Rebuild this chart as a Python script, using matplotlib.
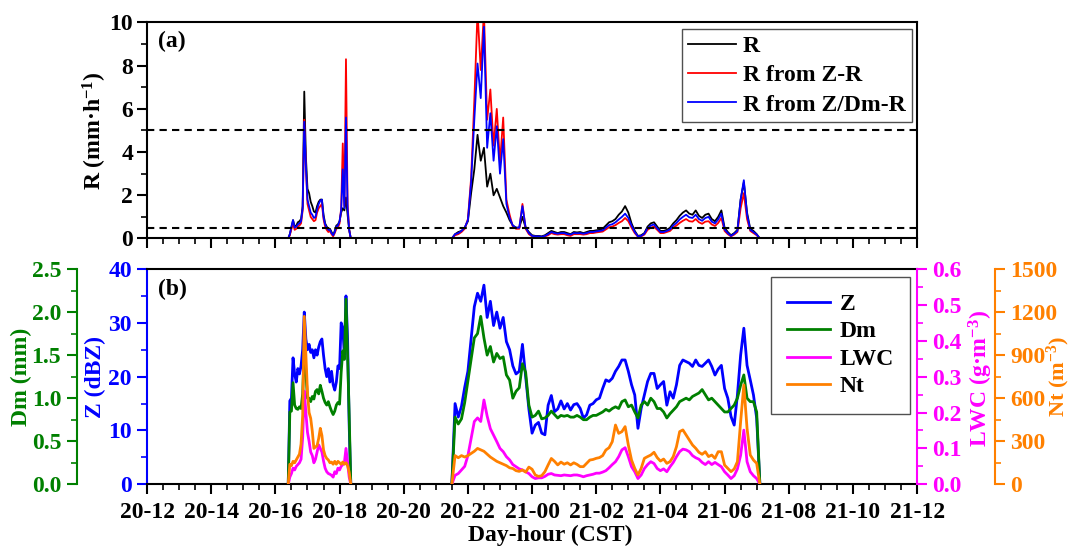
import matplotlib
matplotlib.use('Agg')
import matplotlib.pyplot as plt
import numpy as np
from matplotlib.ticker import MultipleLocator, FuncFormatter, FormatStrFormatter

# ........................................................ fonts
plt.rcParams['font.family'] = ['Liberation Serif', 'DejaVu Serif']
plt.rcParams['font.weight'] = 'bold'
plt.rcParams['font.size'] = 17
plt.rcParams['axes.labelweight'] = 'bold'
plt.rcParams['mathtext.fontset'] = 'custom'
plt.rcParams['mathtext.rm'] = 'Liberation Serif:bold'
plt.rcParams['mathtext.it'] = 'Liberation Serif:bold'
plt.rcParams['mathtext.bf'] = 'Liberation Serif:bold'

# ........................................................ data
# time in hours after 20-12 (CST); event 1 sampled every 3 min, event 2 every 6 min
ev1_start, ev1_step = 4.40, 0.05
ev2_start, ev2_step = 9.50, 0.10

r_ev1 = [0, 0.2, 0.5, 0.85, 0.55, 0.6, 0.75, 0.8, 0.9, 1.5,
         6.8, 3.8, 2.3, 2.1, 1.7, 1.5, 1.25, 1.2, 1.5, 1.7,
         1.8, 1.8, 1.1, 0.7, 0.55, 0.4, 0.45, 0.3, 0.15, 0.35,
         0.6, 0.65, 0.8, 1.2, 1.4, 1.3, 1.9, 1.1, 0.4, 0]
rzr_ev1 = [0, 0.15, 0.45, 0.7, 0.4, 0.45, 0.55, 0.6, 0.7, 1.3,
           5.5, 3.3, 1.6, 1.3, 1.0, 0.9, 0.8, 0.85, 1.2, 1.4,
           1.5, 1.6, 0.9, 0.55, 0.4, 0.3, 0.35, 0.2, 0.1, 0.25,
           0.45, 0.5, 0.7, 1.4, 4.4, 1.5, 8.3, 1.6, 0.4, 0]
rzd_ev1 = [0, 0.2, 0.55, 0.85, 0.5, 0.55, 0.65, 0.7, 0.8, 1.4,
           5.4, 3.4, 1.8, 1.5, 1.2, 1.1, 0.95, 1.0, 1.35, 1.6,
           1.75, 1.8, 1.0, 0.65, 0.5, 0.4, 0.4, 0.25, 0.15, 0.3,
           0.55, 0.6, 0.8, 1.3, 3.2, 1.4, 5.6, 1.4, 0.4, 0]
z_ev1 = [0, 15.5, 16, 23.5, 20.5, 19, 21.5, 20.5, 22, 25,
         32, 27, 25, 26, 24.5, 25, 23.5, 25, 24, 25.5,
         26.5, 27, 24, 21.5, 20, 21.5, 19, 21, 18.5, 17.5,
         19, 22, 21.5, 30, 29, 24, 35, 27, 11, 0]
dm_ev1 = [0, 0.84, 0.85, 1.18, 0.92, 0.88, 0.87, 0.9, 0.88, 1.05,
          1.6, 1.3, 1.0, 1.0, 0.96, 1.02, 0.99, 1.08, 1.1, 1.05,
          1.15, 1.08, 1.0, 0.95, 0.92, 0.96, 0.9, 0.85, 0.81, 0.85,
          0.92, 0.95, 0.93, 1.3, 1.55, 1.45, 2.15, 1.5, 0.8, 0]
lwc_ev1 = [0, 0.02, 0.03, 0.045, 0.04, 0.05, 0.055, 0.06, 0.07, 0.13,
           0.26, 0.2, 0.145, 0.12, 0.09, 0.08, 0.06, 0.07, 0.09, 0.11,
           0.1, 0.09, 0.065, 0.045, 0.035, 0.03, 0.028, 0.025, 0.02, 0.035,
           0.03, 0.045, 0.04, 0.05, 0.055, 0.06, 0.1, 0.06, 0.02, 0]
nt_ev1 = [0, 140, 130, 160, 150, 170, 190, 210, 280, 480,
          1170, 900, 640, 500, 460, 370, 250, 260, 270, 320,
          390, 340, 240, 200, 180, 170, 150, 155, 140, 160,
          140, 160, 150, 140, 155, 140, 150, 130, 85, 0]

r_ev2 = [0, 0.2, 0.3, 0.35, 0.5, 0.8, 2.1, 3.2, 4.8, 3.6,
         4.2, 2.4, 3.0, 2.0, 2.3, 1.9, 1.5, 1.2, 0.85, 0.6,
         0.5, 0.5, 1.0, 0.5, 0.3, 0.15, 0.12, 0.12, 0.1, 0.15,
         0.25, 0.35, 0.3, 0.25, 0.3, 0.3, 0.25, 0.2, 0.3, 0.28,
         0.3, 0.25, 0.3, 0.35, 0.35, 0.38, 0.4, 0.45, 0.6, 0.75,
         0.8, 0.9, 1.1, 1.25, 1.5, 1.2, 0.7, 0.35, 0.12, 0.15,
         0.25, 0.55, 0.7, 0.75, 0.55, 0.35, 0.35, 0.4, 0.5, 0.7,
         0.85, 1.05, 1.2, 1.3, 1.15, 1.1, 1.3, 1.05, 0.95, 1.1,
         1.15, 0.9, 0.8, 1.0, 1.3, 0.5, 0.3, 0.15, 0.25, 0.4,
         1.8, 2.6, 1.2, 0.45, 0.35, 0.2, 0]
rzr_ev2 = [0, 0.15, 0.2, 0.3, 0.45, 0.9, 2.8, 6.4, 10.5, 7.8,
           10.5, 5.5, 6.9, 4.3, 6.0, 3.5, 5.6, 1.8, 1.1, 0.55,
           0.45, 0.45, 1.6, 0.45, 0.2, 0.1, 0.08, 0.08, 0.06, 0.1,
           0.15, 0.25, 0.2, 0.18, 0.2, 0.2, 0.15, 0.12, 0.2, 0.2,
           0.2, 0.18, 0.2, 0.25, 0.25, 0.28, 0.3, 0.32, 0.42, 0.52,
           0.55, 0.62, 0.72, 0.8, 0.95, 0.8, 0.5, 0.25, 0.08, 0.1,
           0.18, 0.4, 0.5, 0.55, 0.4, 0.25, 0.25, 0.3, 0.35, 0.5,
           0.6, 0.72, 0.82, 0.9, 0.8, 0.78, 0.9, 0.75, 0.68, 0.78,
           0.8, 0.65, 0.58, 0.72, 0.95, 0.35, 0.2, 0.1, 0.18, 0.3,
           1.4, 2.1, 0.9, 0.35, 0.25, 0.15, 0]
rzd_ev2 = [0, 0.2, 0.25, 0.35, 0.5, 0.85, 2.6, 5.5, 8.1, 6.5,
           9.8, 4.2, 5.8, 3.6, 5.2, 3.0, 4.6, 1.6, 0.95, 0.6,
           0.5, 0.5, 1.5, 0.5, 0.25, 0.12, 0.1, 0.1, 0.08, 0.12,
           0.2, 0.3, 0.25, 0.22, 0.25, 0.25, 0.2, 0.18, 0.25, 0.24,
           0.25, 0.22, 0.25, 0.3, 0.3, 0.33, 0.35, 0.38, 0.5, 0.62,
           0.66, 0.75, 0.88, 1.0, 1.15, 0.95, 0.6, 0.3, 0.1, 0.12,
           0.22, 0.48, 0.6, 0.65, 0.47, 0.3, 0.3, 0.35, 0.42, 0.6,
           0.72, 0.88, 1.0, 1.1, 0.98, 0.95, 1.1, 0.9, 0.82, 0.95,
           1.0, 0.78, 0.7, 0.88, 1.15, 0.42, 0.25, 0.12, 0.22, 0.35,
           1.8, 2.7, 1.1, 0.4, 0.3, 0.18, 0]
z_ev2 = [0, 15, 12.5, 14.5, 18, 21, 27, 33, 35.5, 34,
         37, 31, 34, 29.5, 32, 29, 31, 26.5, 25, 22,
         20.5, 21, 26, 20, 14, 9.5, 11, 11.5, 9.5, 9.2,
         14.7, 16.5, 13.5, 14, 15.5, 14, 15, 13.8, 14.8, 15,
         14.1, 12.3, 12.9, 14.7, 15, 15.7, 16, 17.8, 19.4, 19.1,
         19.7, 21, 21.9, 23.1, 23.1, 21, 18.5, 16.6, 10.4, 14.1,
         16.6, 19.1, 20.6, 20.6, 17.8, 18.5, 19.1, 14.7, 17.2, 16,
         18.5, 22.1, 23.1, 22.8, 22.5, 21.9, 23.1, 22.1, 21.9, 22.5,
         23.1, 21.9, 20.3, 21.4, 22.1, 17.8, 16, 12.6, 11, 16.6,
         24, 29, 22.1, 19.4, 16.6, 12.3, 0]
dm_ev2 = [0, 0.78, 0.7, 0.76, 0.95, 1.2, 1.45, 1.7, 1.75, 1.95,
          1.7, 1.5, 1.6, 1.42, 1.52, 1.46, 1.48, 1.27, 1.21, 1.0,
          1.08, 1.12, 1.4, 1.3, 0.92, 0.78, 0.8, 0.85, 0.76, 0.77,
          0.8, 0.85, 0.81, 0.77, 0.8, 0.79, 0.8, 0.78, 0.78, 0.8,
          0.78, 0.75, 0.75, 0.78, 0.8, 0.8, 0.82, 0.84, 0.87, 0.85,
          0.88, 0.9, 0.88, 0.96, 0.98, 0.9, 0.92, 0.84, 0.77, 0.92,
          0.96, 0.92, 1.0, 0.96, 0.88, 0.88, 0.84, 0.77, 0.82, 0.86,
          0.9, 0.96, 0.98, 1.0, 0.98, 1.02, 1.04, 1.06, 1.1, 1.04,
          0.98, 1.0, 0.96, 0.92, 0.88, 0.84, 0.84, 0.88, 0.92, 1.0,
          1.15, 1.27, 1.0, 0.96, 0.96, 0.84, 0]
lwc_ev2 = [0, 0.025, 0.03, 0.04, 0.05, 0.08, 0.128, 0.175, 0.185, 0.175,
           0.235, 0.19, 0.155, 0.137, 0.119, 0.1, 0.091, 0.077, 0.068, 0.055,
           0.049, 0.043, 0.04, 0.035, 0.03, 0.021, 0.016, 0.018, 0.018, 0.022,
           0.028, 0.03, 0.026, 0.025, 0.024, 0.026, 0.025, 0.024, 0.026, 0.026,
           0.024, 0.021, 0.024, 0.026, 0.028, 0.031, 0.031, 0.034, 0.038, 0.046,
           0.055, 0.063, 0.077, 0.096, 0.102, 0.077, 0.049, 0.035, 0.016, 0.026,
           0.044, 0.055, 0.063, 0.058, 0.044, 0.038, 0.043, 0.035, 0.049, 0.061,
           0.077, 0.091, 0.098, 0.096, 0.091, 0.08, 0.074, 0.07, 0.061, 0.055,
           0.063, 0.055, 0.061, 0.055, 0.049, 0.035, 0.026, 0.016, 0.024, 0.043,
           0.081, 0.151, 0.063, 0.035, 0.024, 0.016, 0]
nt_ev2 = [0, 200, 185, 200, 190, 200, 215, 230, 250, 240,
          230, 210, 190, 175, 160, 150, 140, 130, 115, 110,
          95, 90, 100, 85, 120, 105, 65, 55, 60, 88,
          135, 180, 160, 135, 155, 140, 150, 135, 150, 139,
          123, 123, 146, 169, 173, 181, 186, 200, 239, 255,
          297, 413, 355, 367, 402, 274, 169, 111, 65, 111,
          181, 193, 204, 223, 186, 162, 176, 146, 158, 193,
          262, 367, 379, 344, 309, 274, 251, 223, 209, 227,
          193, 204, 181, 227, 227, 134, 111, 88, 107, 158,
          436, 692, 390, 204, 169, 146, 0]

t_ev1 = ev1_start + ev1_step * np.arange(len(r_ev1))
t_ev2 = ev2_start + ev2_step * np.arange(len(r_ev2))
t_all = np.concatenate([t_ev1, [np.nan], t_ev2])


def join(a, b):
    return np.concatenate([a, [np.nan], b])


def day_hour(v, pos):
    h = int(round(v)) + 12
    return f"{20 + h // 24}-{h % 24:02d}"


C_Z, C_DM, C_LWC, C_NT = '#0000FF', '#008000', '#FF00FF', '#FF8000'
LW_SP = 1.5

fig = plt.figure(figsize=(10.71, 5.46), dpi=100)
ax_a = fig.add_axes([0.1373, 0.5632, 0.719, 0.3956])
ax_b = fig.add_axes([0.1373, 0.1130, 0.719, 0.3943])

# ........................................................ panel (a)
ax_a.plot(t_all, join(r_ev1, r_ev2), color='k', lw=1.3, label='R')
ax_a.plot(t_all, join(rzr_ev1, rzr_ev2), color='#FF0000', lw=1.3, label='R from Z-R')
ax_a.plot(t_all, join(rzd_ev1, rzd_ev2), color='#0000FF', lw=1.3, label='R from Z/Dm-R')
for lev in (5, 0.5):
    ax_a.axhline(lev, color='k', lw=1.5, ls=(0, (3.5, 2.5)))
ax_a.set_xlim(0, 24)
ax_a.set_ylim(0, 10)
ax_a.xaxis.set_major_locator(MultipleLocator(2))
ax_a.xaxis.set_minor_locator(MultipleLocator(0.5))
ax_a.yaxis.set_major_locator(MultipleLocator(2))
ax_a.yaxis.set_minor_locator(MultipleLocator(1))
ax_a.tick_params(axis='x', labelbottom=False)
ax_a.tick_params(which='major', direction='out', length=7, width=1.5, pad=3)
ax_a.tick_params(which='minor', direction='out', length=4, width=1.2)
for s in ax_a.spines.values():
    s.set_linewidth(LW_SP)
ax_a.set_ylabel('R (mm·h$^{-1}$)')
ax_a.yaxis.set_label_coords(-0.050, 0.5)
ax_a.text(0.014, 0.91, '(a)', transform=ax_a.transAxes, va='center', ha='left')
leg = ax_a.legend(loc='upper right', bbox_to_anchor=(0.9935, 0.970), borderaxespad=0,
                  handlelength=2.0, handletextpad=0.3, labelspacing=0.33, borderpad=0.28,
                  fancybox=False, framealpha=1, edgecolor='#505050')
leg.get_frame().set_linewidth(1.0)

# ........................................................ panel (b)
ax_dm = ax_b.twinx()
ax_lwc = ax_b.twinx()
ax_nt = ax_b.twinx()

lz, = ax_b.plot(t_all, join(z_ev1, z_ev2), color=C_Z, lw=2.0, label='Z')
ldm, = ax_dm.plot(t_all, join(dm_ev1, dm_ev2), color=C_DM, lw=2.0, label='Dm')
llwc, = ax_lwc.plot(t_all, join(lwc_ev1, lwc_ev2), color=C_LWC, lw=2.0, label='LWC')
lnt, = ax_nt.plot(t_all, join(nt_ev1, nt_ev2), color=C_NT, lw=2.0, label='Nt')

ax_b.set_xlim(0, 24)
ax_b.set_ylim(0, 40)
ax_dm.set_ylim(0, 2.5)
ax_lwc.set_ylim(0, 0.6)
ax_nt.set_ylim(0, 1500)

ax_b.xaxis.set_major_locator(MultipleLocator(2))
ax_b.xaxis.set_minor_locator(MultipleLocator(0.5))
ax_b.xaxis.set_major_formatter(FuncFormatter(day_hour))
ax_b.yaxis.set_major_locator(MultipleLocator(10))
ax_b.yaxis.set_minor_locator(MultipleLocator(5))
ax_dm.yaxis.set_major_locator(MultipleLocator(0.5))
ax_dm.yaxis.set_minor_locator(MultipleLocator(0.25))
ax_dm.yaxis.set_major_formatter(FormatStrFormatter('%.1f'))
ax_lwc.yaxis.set_major_locator(MultipleLocator(0.1))
ax_lwc.yaxis.set_minor_locator(MultipleLocator(0.05))
ax_lwc.yaxis.set_major_formatter(FormatStrFormatter('%.1f'))
ax_nt.yaxis.set_major_locator(MultipleLocator(300))
ax_nt.yaxis.set_minor_locator(MultipleLocator(150))

# spines: keep one per twin axis
ax_b.spines['right'].set_visible(False)
for s in ('top', 'bottom', 'left'):
    ax_b.spines[s].set_linewidth(LW_SP)
for ax in (ax_dm, ax_lwc, ax_nt):
    for s in ax.spines.values():
        s.set_visible(False)
ax_dm.spines['left'].set_visible(True)
ax_dm.spines['left'].set_position(('axes', -0.0916))
ax_dm.yaxis.set_ticks_position('left')
ax_dm.yaxis.set_label_position('left')
ax_lwc.spines['right'].set_visible(True)
ax_nt.spines['right'].set_visible(True)
ax_nt.spines['right'].set_position(('axes', 1.101))

for ax, side, col in ((ax_b, 'left', C_Z), (ax_dm, 'left', C_DM),
                      (ax_lwc, 'right', C_LWC), (ax_nt, 'right', C_NT)):
    ax.spines[side].set_color(col)
    ax.spines[side].set_linewidth(LW_SP)
    ax.tick_params(axis='y', which='major', direction='out', length=7, width=1.5,
                   colors=col, pad=4)
    ax.tick_params(axis='y', which='minor', direction='out', length=4, width=1.2,
                   colors=col)
ax_b.tick_params(axis='x', which='major', direction='out', length=7, width=1.5, pad=6)
ax_b.tick_params(axis='x', which='minor', direction='out', length=4, width=1.2)

ax_b.set_ylabel('Z (dBZ)', color=C_Z)
ax_b.yaxis.set_label_coords(-0.053, 0.5)
ax_dm.set_ylabel('Dm (mm)', color=C_DM)
ax_dm.yaxis.set_label_coords(-0.149, 0.5)
ax_lwc.set_ylabel('LWC (g·m$^{-3}$)', color=C_LWC)
ax_lwc.yaxis.set_label_coords(1.065, 0.49)
ax_nt.set_ylabel('Nt (m$^{-3}$)', color=C_NT, fontsize=16)
ax_nt.yaxis.set_label_coords(1.166, 0.5)
ax_b.set_xlabel('Day-hour (CST)')
ax_b.xaxis.set_label_coords(0.523, -0.19)

ax_b.text(0.014, 0.907, '(b)', transform=ax_b.transAxes, va='center', ha='left')
leg_b = ax_nt.legend(handles=[lz, ldm, llwc, lnt], loc='upper right',
                     bbox_to_anchor=(0.991, 0.963), borderaxespad=0,
                     handlelength=1.8, handletextpad=0.4, labelspacing=0.25,
                     borderpad=0.7, fancybox=False, framealpha=1, edgecolor='#505050')
leg_b.get_frame().set_linewidth(1.0)

fig.savefig('out.png', dpi=100)
